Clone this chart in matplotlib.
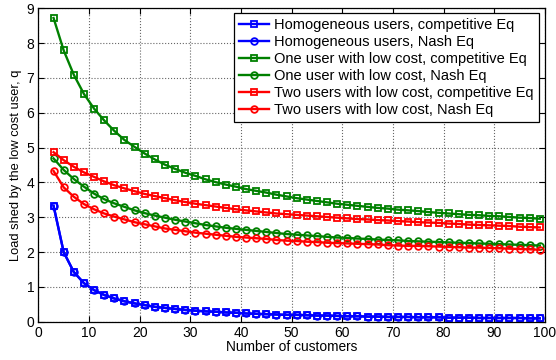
import matplotlib
matplotlib.use("Agg")
import matplotlib.pyplot as plt

plt.rcParams['font.family'] = ['Liberation Sans', 'DejaVu Sans']

customers = list(range(3, 100, 2))

homog_comp = [3.33, 2.00, 1.43, 1.11, 0.91, 0.77, 0.67, 0.59, 0.53, 0.48,
              0.43, 0.40, 0.37, 0.34, 0.32, 0.30, 0.29, 0.27, 0.26, 0.24,
              0.23, 0.22, 0.21, 0.20, 0.20, 0.19, 0.18, 0.18, 0.17, 0.16,
              0.16, 0.15, 0.15, 0.14, 0.14, 0.14, 0.13, 0.13, 0.13, 0.12,
              0.12, 0.12, 0.11, 0.11, 0.11, 0.11, 0.11, 0.10, 0.10]
homog_nash = list(homog_comp)

one_comp = [8.72, 7.79, 7.09, 6.54, 6.12, 5.78, 5.48, 5.22, 5.02, 4.83,
            4.66, 4.51, 4.39, 4.28, 4.19, 4.09, 4.01, 3.94, 3.88, 3.81,
            3.76, 3.71, 3.65, 3.60, 3.55, 3.51, 3.47, 3.43, 3.39, 3.36,
            3.33, 3.30, 3.27, 3.25, 3.22, 3.20, 3.18, 3.15, 3.13, 3.11,
            3.09, 3.07, 3.06, 3.04, 3.03, 3.01, 2.99, 2.98, 2.96]
one_nash = [4.69, 4.36, 4.10, 3.88, 3.68, 3.52, 3.40, 3.30, 3.20, 3.12,
            3.05, 2.99, 2.93, 2.88, 2.83, 2.78, 2.74, 2.70, 2.67, 2.64,
            2.61, 2.58, 2.55, 2.52, 2.50, 2.48, 2.46, 2.44, 2.42, 2.41,
            2.39, 2.38, 2.36, 2.35, 2.34, 2.32, 2.31, 2.30, 2.29, 2.28,
            2.27, 2.26, 2.25, 2.24, 2.23, 2.22, 2.21, 2.20, 2.19]

two_comp = [4.87, 4.64, 4.45, 4.29, 4.16, 4.03, 3.92, 3.83, 3.75, 3.67,
            3.61, 3.55, 3.49, 3.44, 3.39, 3.35, 3.31, 3.27, 3.23, 3.20,
            3.17, 3.14, 3.11, 3.09, 3.07, 3.05, 3.03, 3.01, 2.99, 2.97,
            2.95, 2.94, 2.92, 2.91, 2.89, 2.88, 2.86, 2.85, 2.84, 2.82,
            2.81, 2.79, 2.78, 2.77, 2.76, 2.75, 2.73, 2.72, 2.71]
two_nash = [4.33, 3.86, 3.59, 3.38, 3.23, 3.11, 3.02, 2.94, 2.86, 2.80,
            2.74, 2.68, 2.64, 2.60, 2.56, 2.53, 2.50, 2.47, 2.44, 2.42,
            2.40, 2.38, 2.35, 2.33, 2.32, 2.30, 2.29, 2.27, 2.26, 2.25,
            2.24, 2.23, 2.22, 2.20, 2.19, 2.18, 2.18, 2.17, 2.16, 2.15,
            2.14, 2.13, 2.13, 2.12, 2.11, 2.10, 2.09, 2.08, 2.07]

series = [
    (homog_comp, 'b', 's', 'Homogeneous users, competitive Eq'),
    (homog_nash, 'b', 'o', 'Homogeneous users, Nash Eq'),
    (one_comp, (0, 0.5, 0), 's', 'One user with low cost, competitive Eq'),
    (one_nash, (0, 0.5, 0), 'o', 'One user with low cost, Nash Eq'),
    (two_comp, 'r', 's', 'Two users with low cost, competitive Eq'),
    (two_nash, 'r', 'o', 'Two users with low cost, Nash Eq'),
]

fig = plt.figure(figsize=(5.56, 3.6), dpi=100)
ax = fig.add_axes([0.069, 0.106, 0.911, 0.871])

for vals, col, mk, lab in series:
    ax.plot(customers, vals, color=col, marker=mk, ms=4.8, mew=1.3,
            mfc='none', lw=1.7, label=lab)

ax.set_xlim(0, 100)
ax.set_ylim(0, 9)
ax.set_xticks(range(0, 101, 10))
ax.set_yticks(range(0, 10))
ax.grid(True, linestyle=':', color='0.4', linewidth=0.8)
ax.tick_params(direction='in', top=True, right=True, labelsize=10, length=4, pad=3)
for s in ax.spines.values():
    s.set_linewidth(0.9)

ax.set_xlabel('Number of customers', fontsize=9.9, labelpad=0)
ax.set_ylabel('Load shed by the low cost user, q', fontsize=9.3, labelpad=3)

# legend box pinned just inside the top-right corner
leg = ax.legend(loc='upper right', bbox_to_anchor=(539 / 556, 1 - 13 / 360),
                bbox_transform=fig.transFigure, fontsize=10.5,
                handlelength=2.05, borderaxespad=0, borderpad=0.35,
                labelspacing=0.2, handletextpad=0.35, fancybox=False,
                framealpha=1)
leg.get_frame().set_edgecolor('k')
leg.get_frame().set_linewidth(0.9)

fig.savefig('out.png', dpi=100)
